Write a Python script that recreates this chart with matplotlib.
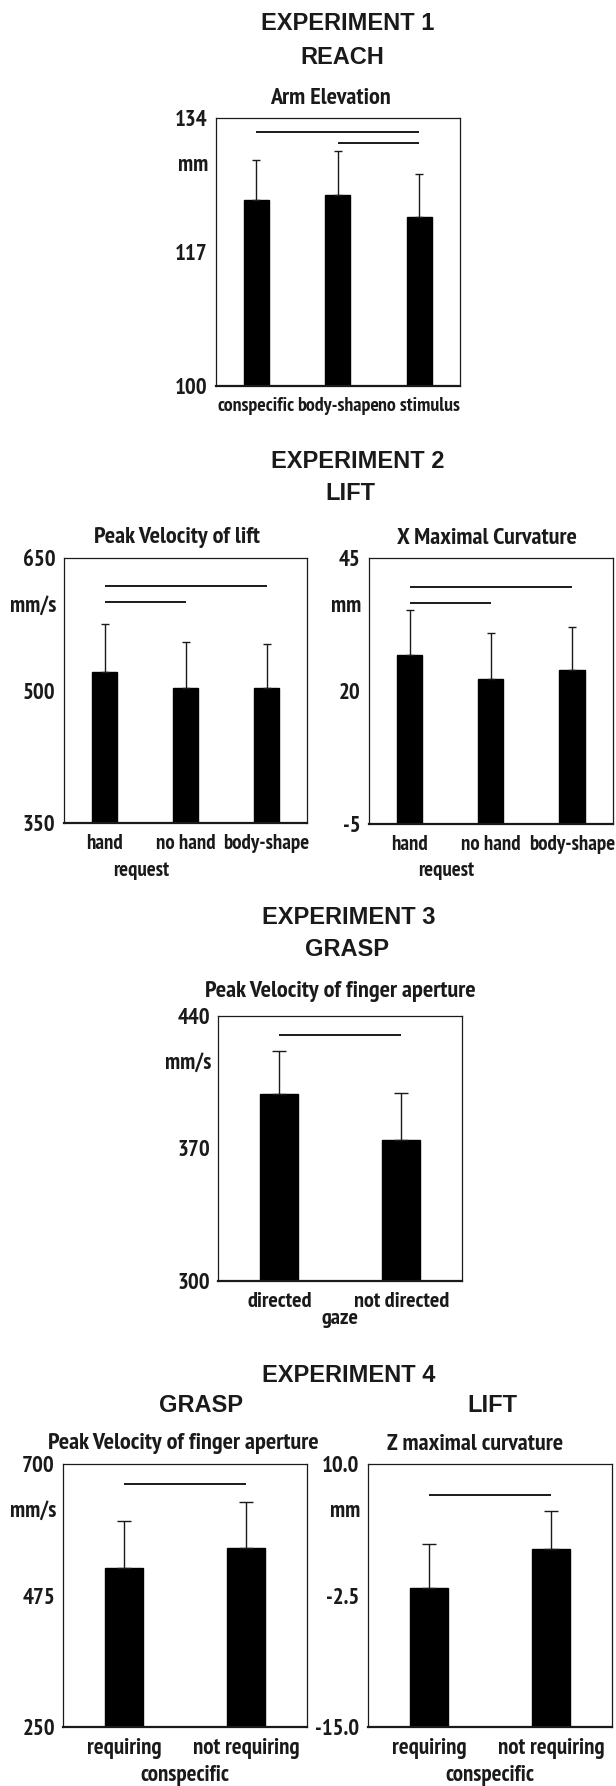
import matplotlib
matplotlib.use("Agg")
import matplotlib.pyplot as plt
import numpy as np

# ---- data ----
exp1_labels = ["conspecific", "body-shape", "no stimulus"]
exp1_means = [123.6, 124.2, 121.4]
exp1_err = [5.0, 5.6, 5.5]
exp1_sig = [(0, 2, 132.2), (1, 2, 130.75)]

exp2_labels = ["hand", "no hand", "body-shape"]
exp2_vel_means = [521, 503, 503]
exp2_vel_err = [55, 52, 50]
exp2_vel_sig = [(0, 2, 619), (0, 1, 600)]
exp2_curv_means = [26.8, 22.3, 23.9]
exp2_curv_err = [8.4, 8.7, 8.1]
exp2_curv_sig = [(0, 2, 39.6), (0, 1, 36.6)]

exp3_labels = ["directed", "not directed"]
exp3_means = [399.0, 374.4]
exp3_err = [22.6, 24.7]
exp3_sig = [(0, 1, 430)]

exp4_labels = ["requiring", "not requiring"]
exp4_grasp_means = [521.8, 556.5]
exp4_grasp_err = [81.4, 78.1]
exp4_grasp_sig = [(0, 1, 665)]
exp4_lift_means = [-1.74, 1.9]
exp4_lift_err = [4.14, 3.6]
exp4_lift_sig = [(0, 1, 7.06)]

W, H = 616, 1786
INK = "#1a1a1a"
NARROW = ["PT Sans Narrow", "DejaVu Sans"]
WIDE = ["Liberation Sans", "DejaVu Sans"]

fig = plt.figure(figsize=(W / 100, H / 100), dpi=100)


def px_axes(l, t, r, b):
    return fig.add_axes([l / W, 1 - b / H, (r - l) / W, (b - t) / H])


def ftext(x, y, s, size, family=NARROW, **kw):
    fig.text(x / W, 1 - y / H, s, fontsize=size, family=family, weight="bold",
             color=INK, ha="center", va="center", **kw)


def panel(ax, labels, means, errs, ylim, yticklabels, unit, sig, capsize, xsize):
    x = np.arange(len(labels))
    lo, hi = ylim
    heights = [m - lo for m in means]
    ax.bar(x, heights, bottom=lo, width=0.31, color="black", edgecolor="black", zorder=2)
    # one-sided (upward) error bars
    ax.errorbar(x, means, yerr=[np.zeros(len(errs)), errs], fmt="none",
                ecolor=INK, elinewidth=1.0, capsize=capsize, capthick=1.0, zorder=3)
    for i, j, y in sig:
        ax.plot([x[i], x[j]], [y, y], color=INK, lw=1.4, solid_capstyle="butt", zorder=3)
    ax.set_xlim(-0.5, len(labels) - 0.5)
    ax.set_ylim(lo, hi)
    ax.set_yticks([lo, (lo + hi) / 2, hi])
    ax.set_yticklabels(yticklabels[::-1], family=NARROW, weight="bold", fontsize=16.5, color=INK)
    ax.set_xticks(x)
    ax.set_xticklabels(labels, family=NARROW, weight="bold", fontsize=xsize, color=INK)
    ax.tick_params(axis="y", length=0, pad=6)
    ax.tick_params(axis="x", length=0, pad=8)
    for s in ["top", "right", "left"]:
        ax.spines[s].set_linewidth(0.9)
        ax.spines[s].set_color(INK)
    ax.spines["bottom"].set_linewidth(1.6)
    ax.spines["bottom"].set_color(INK)
    ax.text(-0.03, 0.82, unit, transform=ax.transAxes, ha="right", va="center",
            family=NARROW, weight="bold", fontsize=16.5, color=INK)


def second_line(ax, s, xpos, offset, size):
    ax.annotate(s, xy=(xpos, 0), xycoords=("data", "axes fraction"),
                xytext=(0, -offset), textcoords="offset pixels",
                ha="center", va="center", family=NARROW, weight="bold",
                fontsize=size, color=INK, annotation_clip=False)


# ---- Experiment 1 ----
ftext(348, 23, "EXPERIMENT 1", 17, WIDE)
ftext(342, 58, "REACH", 17, WIDE)
ftext(330, 98, "Arm Elevation", 17.5)
ax1 = px_axes(215.7, 117.7, 460, 385.7)
panel(ax1, exp1_labels, exp1_means, exp1_err, (100, 134), ["134", "117", "100"],
      "mm", exp1_sig, 2.7, 14.3)

# ---- Experiment 2 ----
ftext(358, 461, "EXPERIMENT 2", 17, WIDE)
ftext(350, 493, "LIFT", 17, WIDE)
ftext(177, 538, "Peak Velocity of lift", 17.5)
ftext(487, 538, "X Maximal Curvature", 17.5)
ax2a = px_axes(64, 558.3, 307.3, 823.3)
panel(ax2a, exp2_labels, exp2_vel_means, exp2_vel_err, (350, 650), ["650", "500", "350"],
      "mm/s", exp2_vel_sig, 2.8, 15)
second_line(ax2a, "request", 0.45, 47, 15)
ax2b = px_axes(369, 558.3, 612.7, 824)
panel(ax2b, exp2_labels, exp2_curv_means, exp2_curv_err, (-5, 45), ["45", "20", "-5"],
      "mm", exp2_curv_sig, 2.8, 15)
second_line(ax2b, "request", 0.45, 47, 15)

# ---- Experiment 3 ----
ftext(349, 918, "EXPERIMENT 3", 17, WIDE)
ftext(347, 950, "GRASP", 17, WIDE)
ftext(340, 992, "Peak Velocity of finger aperture", 17.5)
ax3 = px_axes(218.3, 1016, 462.3, 1280.7)
panel(ax3, exp3_labels, exp3_means, exp3_err, (300, 440), ["440", "370", "300"],
      "mm/s", exp3_sig, 5, 16)
second_line(ax3, "gaze", 0.5, 38, 16)

# ---- Experiment 4 ----
ftext(349, 1375, "EXPERIMENT 4", 17, WIDE)
ftext(201, 1405, "GRASP", 17, WIDE)
ftext(492, 1405, "LIFT", 17, WIDE)
ftext(183, 1443, "Peak Velocity of finger aperture", 17.5)
ftext(475, 1445, "Z maximal curvature", 17.5)
ax4a = px_axes(63.3, 1464, 307.3, 1727.3)
panel(ax4a, exp4_labels, exp4_grasp_means, exp4_grasp_err, (250, 700), ["700", "475", "250"],
      "mm/s", exp4_grasp_sig, 5, 16.5)
second_line(ax4a, "conspecific", 0.5, 48, 16.5)
ax4b = px_axes(367.7, 1464, 612.3, 1727.3)
panel(ax4b, exp4_labels, exp4_lift_means, exp4_lift_err, (-15, 10), ["10.0", "-2.5", "-15.0"],
      "mm", exp4_lift_sig, 5, 16.5)
second_line(ax4b, "conspecific", 0.5, 48, 16.5)

fig.savefig("out.png", dpi=100)
